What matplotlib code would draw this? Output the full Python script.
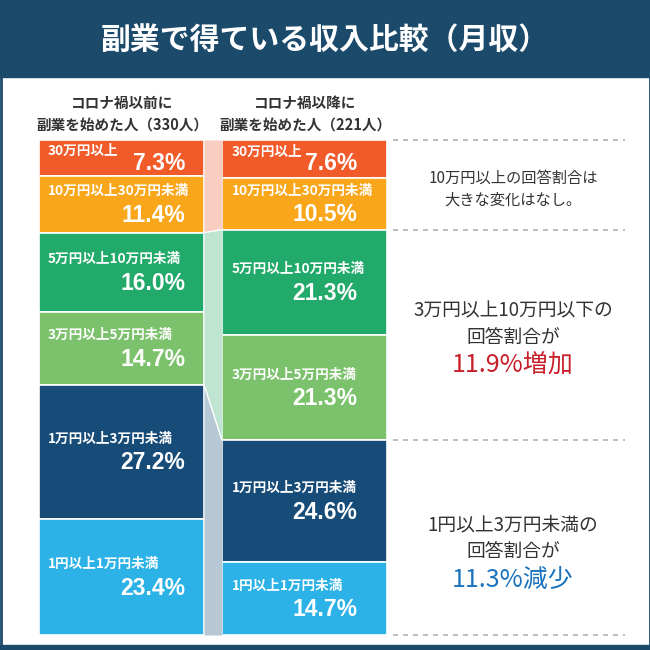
import matplotlib

matplotlib.use("Agg")
import matplotlib.pyplot as plt
from matplotlib.patches import Rectangle
import numpy as np

plt.rcParams["font.family"] = ["Noto Sans CJK JP", "DejaVu Sans"]

# --- data -------------------------------------------------------------
categories = ["30万円以上", "10万円以上30万円未満", "5万円以上10万円未満",
              "3万円以上5万円未満", "1万円以上3万円未満", "1円以上1万円未満"]
before_pct = [7.3, 11.4, 16.0, 14.7, 27.2, 23.4]   # コロナ禍以前 (330人)
after_pct = [7.6, 10.5, 21.3, 21.3, 24.6, 14.7]    # コロナ禍以降 (221人)
group_titles = ["コロナ禍以前に\n副業を始めた人（330人）",
                "コロナ禍以降に\n副業を始めた人（221人）"]
title = "副業で得ている収入比較（月収）"

seg_colors = ["#f15a29", "#faa61a", "#22aa6a", "#7cc26c", "#174c78", "#2cb2e6"]
link_colors = ["#f9cdbf", "#c0e4d2", "#b7c8d5"]
NAVY = "#1b4a6b"

W, H = 650, 650
fig = plt.figure(figsize=(6.5, 6.5), dpi=100)
fig.patch.set_facecolor("white")

# overlay axes in pixel coordinates for banner / free text
bg = fig.add_axes([0, 0, 1, 1])
bg.set_xlim(0, W)
bg.set_ylim(H, 0)
bg.axis("off")
bg.add_patch(Rectangle((0, 0), W, 77, color=NAVY, zorder=0))
bg.add_patch(Rectangle((0, 645), W, 5, color=NAVY, zorder=0))
bg.add_patch(Rectangle((0.5, 0.5), W - 1, H - 1, fill=False, ec=NAVY, lw=2))
bg.text(W / 2, 40, title, color="white", fontsize=21.5, fontweight="bold",
        ha="center", va="center")
for cx, t in zip([122, 305], group_titles):
    bg.text(cx, 114, t, fontsize=10.5, fontweight="bold", color="#333333",
            ha="center", va="center", linespacing=1.45)

# --- stacked bars -----------------------------------------------------
left_px, right_px, top_px, bot_px = 39, 387, 140, 635
ax = fig.add_axes([left_px / W, 1 - bot_px / H,
                   (right_px - left_px) / W, (bot_px - top_px) / H])
bw = 165 / 183
ax.set_xlim(-bw / 2, 1 + bw / 2)
ax.set_ylim(100, 0)
ax.axis("off")

cum_b = np.concatenate([[0], np.cumsum(before_pct)])
cum_a = np.concatenate([[0], np.cumsum(after_pct)])

for xi, vals, cum in ((0, before_pct, cum_b), (1, after_pct, cum_a)):
    ax.bar([xi] * len(vals), vals, bottom=cum[:-1], width=bw,
           color=seg_colors, edgecolor="white", linewidth=1.2)

# connectors between the bars: 10万円以上 / 3万〜10万 / 3万円未満
xl, xr = bw / 2, 1 - bw / 2
groups = [(0, 2), (2, 4), (4, 6)]
for (i0, i1), c in zip(groups, link_colors):
    ax.fill_between([xl, xr], [cum_b[i0], cum_a[i0]], [cum_b[i1], cum_a[i1]],
                    color=c, lw=0)
ax.plot([xl, xr], [cum_b[4], cum_a[4]], color="white", lw=1)
ax.plot([xl, xr], [cum_b[2], cum_a[2]], color="white", lw=1)

# segment labels
label_dx = [(9, -19), (10, -30)]
for xi, vals, cum in ((0, before_pct, cum_b), (1, after_pct, cum_a)):
    dl, dr = label_dx[xi]
    for i, (name, v) in enumerate(zip(categories, vals)):
        mid = cum[i] + v / 2
        up, down = (7, 5) if v < 9 else (13, 11)
        ax.annotate(name, (xi - bw / 2, mid), xytext=(dl, up),
                    textcoords="offset pixels", ha="left", va="center",
                    color="white", fontsize=9.8, fontweight="bold")
        ax.annotate(f"{v:.1f}%", (xi + bw / 2, mid), xytext=(dr, -down),
                    textcoords="offset pixels", ha="right", va="center",
                    color="white", fontsize=16.5, fontweight="bold",
                    family="Liberation Sans")

# dashed separators on the right, at group boundaries of the later bar
tr = ax.get_yaxis_transform()
for yv in (0, cum_a[2], cum_a[4], 100):
    ax.plot([1.017, 1.684], [yv, yv], transform=tr, clip_on=False,
            color="#b0b0b0", lw=1.2, ls=(0, (3, 3)))

# --- right-hand comments ----------------------------------------------
cx = 513
bg.text(cx, 189, "10万円以上の回答割合は\n大きな変化はなし。", fontsize=11,
        color="#333333", ha="center", va="center", linespacing=1.4)
bg.text(cx, 324, "3万円以上10万円以下の\n回答割合が", fontsize=13.5,
        color="#333333", ha="center", va="center", linespacing=1.35)
bg.text(cx, 365, "11.9%増加", fontsize=18, color="#c8202b",
        ha="center", va="center")
bg.text(cx, 538, "1円以上3万円未満の\n回答割合が", fontsize=13.5,
        color="#333333", ha="center", va="center", linespacing=1.35)
bg.text(cx, 580, "11.3%減少", fontsize=18, color="#1a72bd",
        ha="center", va="center")

fig.savefig("out.png", dpi=100)
